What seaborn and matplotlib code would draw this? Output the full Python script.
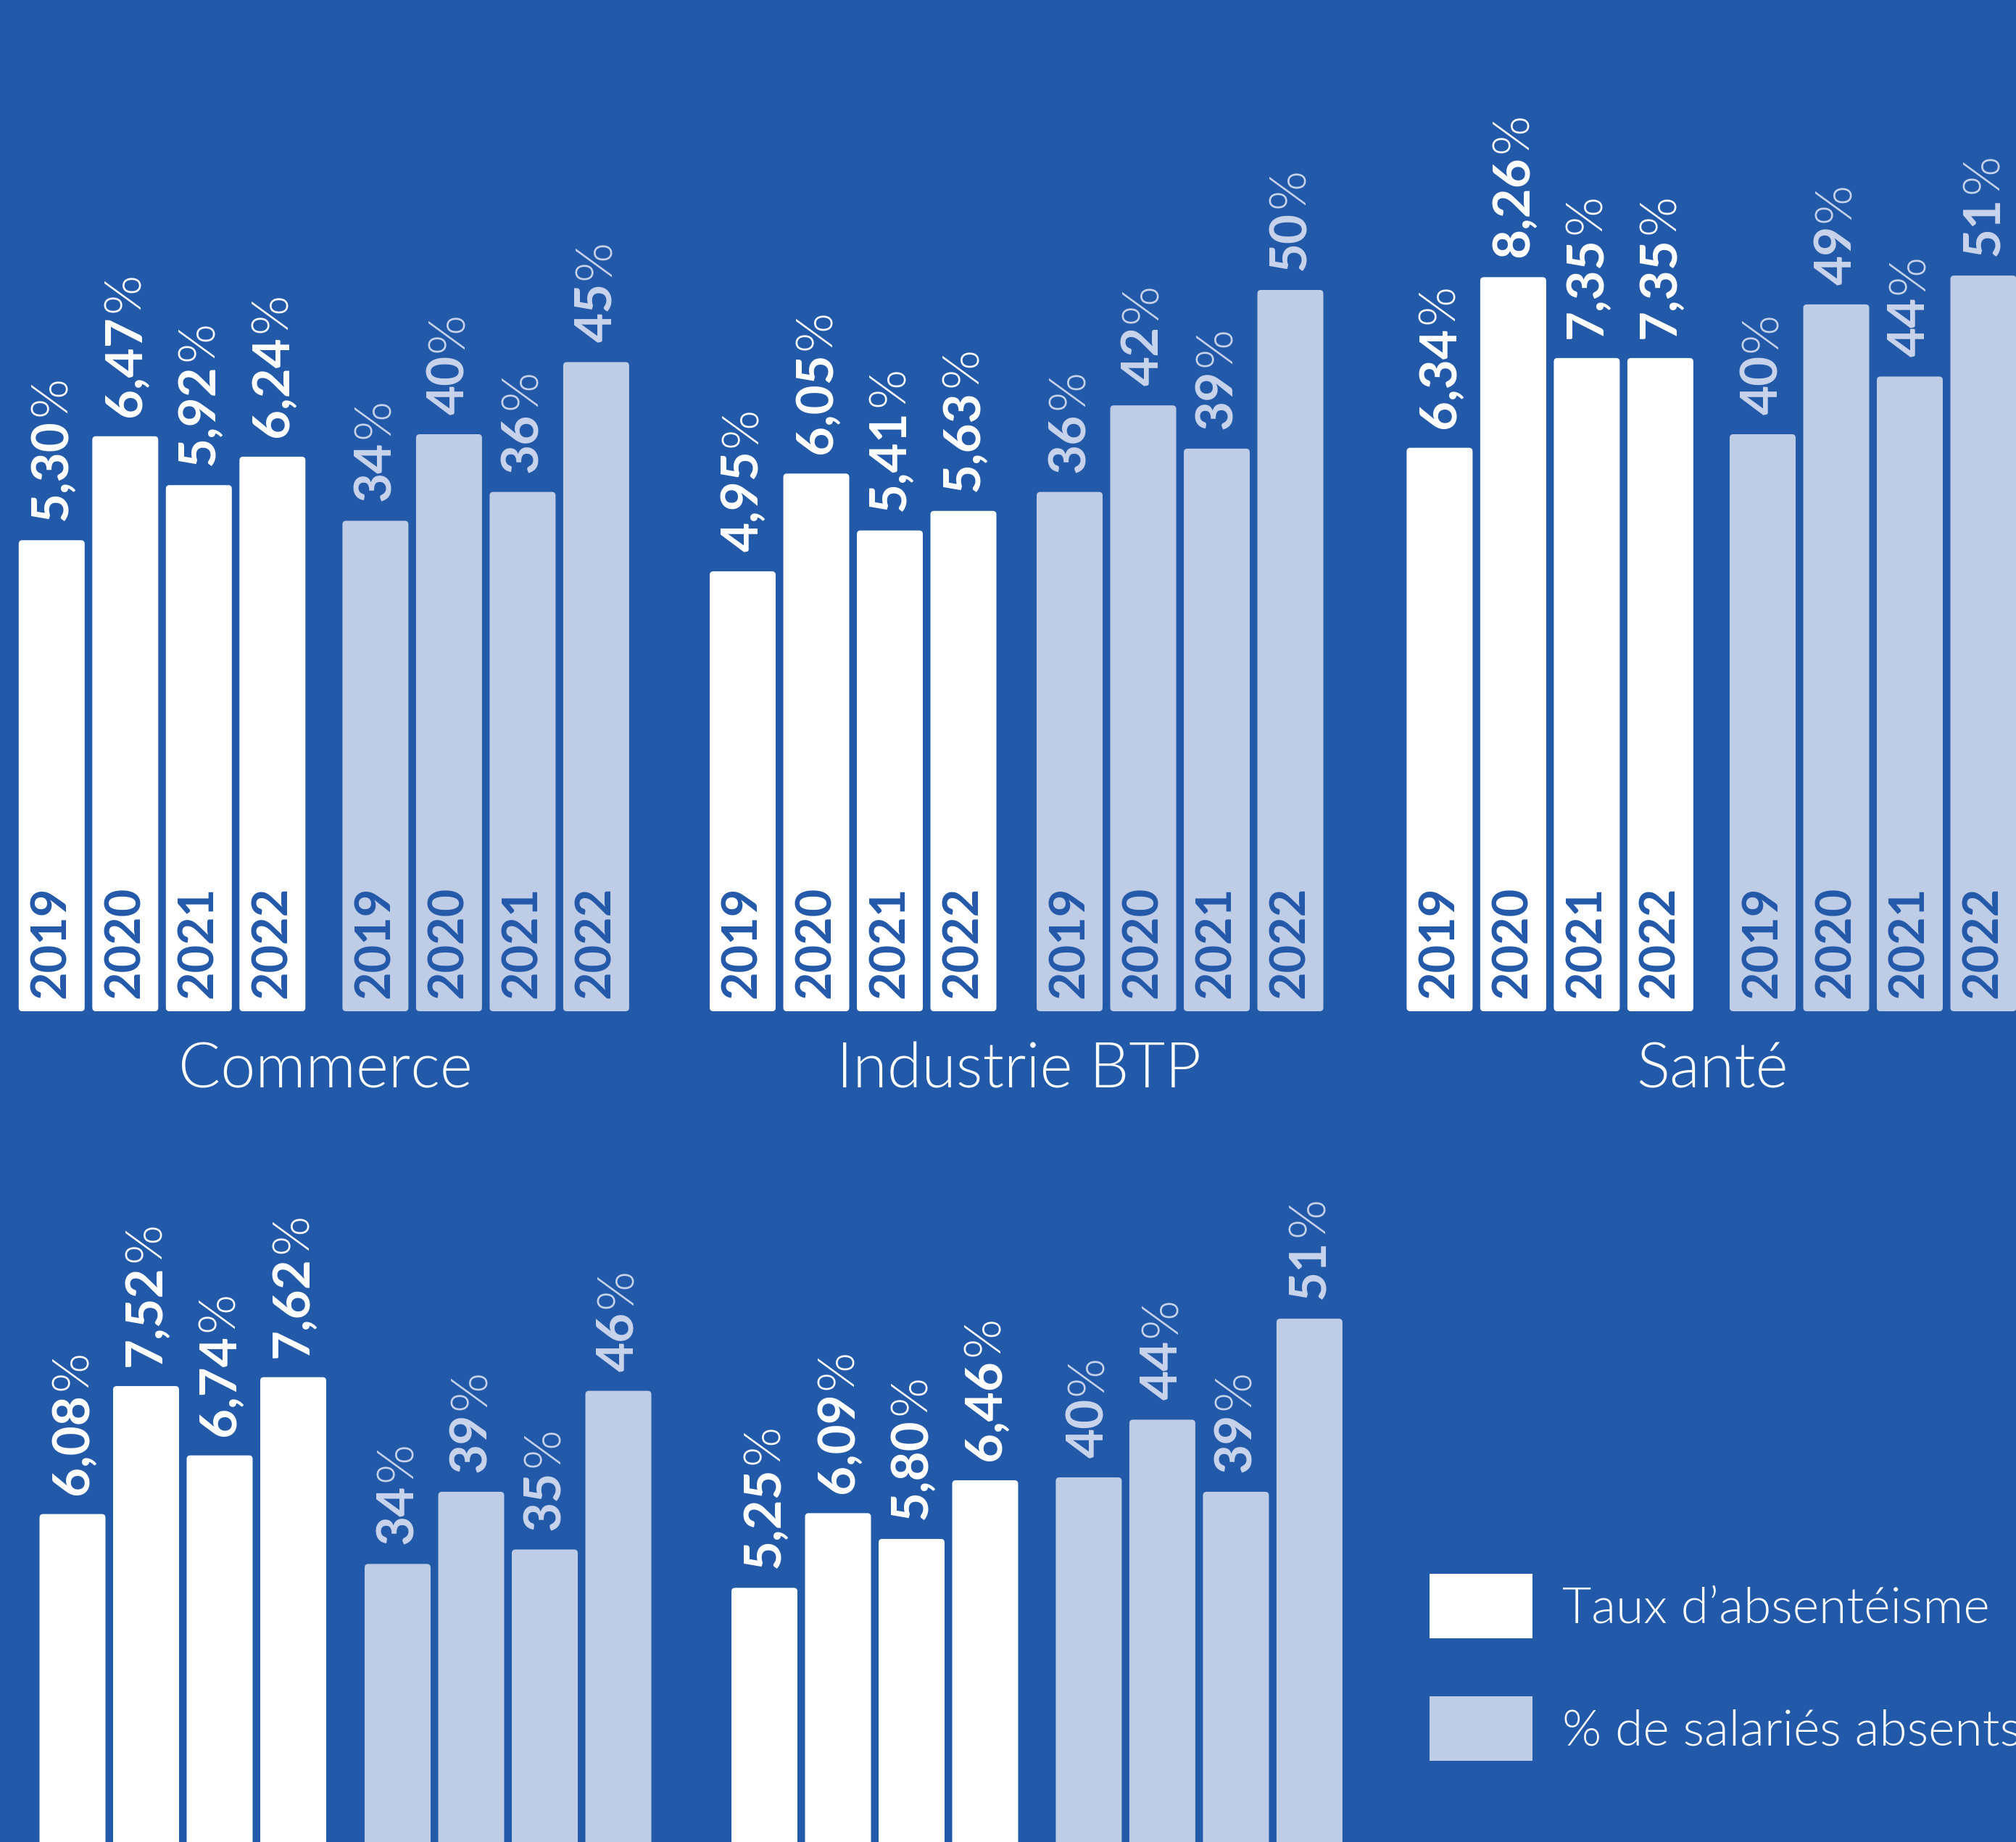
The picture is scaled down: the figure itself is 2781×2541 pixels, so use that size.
"""
Absentéisme par secteur : taux d'absentéisme et % de salariés absents (2019-2022)
"""

import os
import pandas as pd
import matplotlib
matplotlib.use("Agg")
import matplotlib.pyplot as plt
from matplotlib import font_manager as fm
from matplotlib.patches import Patch, FancyBboxPatch
import seaborn as sns

# ---- données ----
annees = ['2019', '2020', '2021', '2022']
secteurs = ['Commerce', 'Industrie BTP', 'Santé']

taux_commerce = [5.30, 6.47, 5.92, 6.24]
absents_commerce = [34, 40, 36, 45]
taux_btp = [4.95, 6.05, 5.41, 5.63]
absents_btp = [36, 42, 39, 50]
taux_sante = [6.34, 8.26, 7.35, 7.35]
absents_sante = [40, 49, 44, 51]
# rangée du bas (noms de secteur hors cadre)
taux_bas_1 = [6.08, 7.52, 6.74, 7.62]
absents_bas_1 = [34, 39, 35, 46]
taux_bas_2 = [5.25, 6.09, 5.80, 6.46]
absents_bas_2 = [40, 44, 39, 51]

legende = ['Taux d’absentéisme', '% de salariés absents']

# ---- mise en page (pixels) ----
W, H, DPI = 2781, 2541, 100
BLEU = '#2359A9'
CLAIR = '#BFCCE6'
TXT_CLAIR = '#C9D4EB'
PX_TAUX = 122.6    # px par point de taux
PX_ABS = 19.9      # px par point de %
PAS = 101.5
LARG = 91
RAYON = 5          # arrondi des barres, px
PT = 72 / DPI      # 1 px en points

FS_VAL = 51
FS_AN = 48
FS_CAT = 62
FS_LEG = 50


def police_lato(mot, defaut_poids):
    """Cherche le fichier Lato d'une graisse donnée (Light...)"""
    for f in fm.fontManager.ttflist:
        base = os.path.basename(f.fname).lower()
        if f.name == 'Lato' and f'lato-{mot}.' in base:
            return fm.FontProperties(fname=f.fname)
    return fm.FontProperties(family=['Lato', 'DejaVu Sans'], weight=defaut_poids)


def arrondir(ax, echelle):
    """Remplace les barres par des rectangles aux coins arrondis"""
    for p in list(ax.patches):
        x, y = p.get_xy()
        w, h = p.get_width(), p.get_height()
        neuf = FancyBboxPatch((x, y), w, h,
                              boxstyle=f"round,pad=0,rounding_size={RAYON / PAS}",
                              mutation_aspect=PAS / echelle,
                              facecolor=p.get_facecolor(), edgecolor='none')
        p.remove()
        ax.add_patch(neuf)


def groupe(fig, gauche, base, haut, valeurs, couleur, couleur_txt, echelle, fmt, avec_annees):
    """Un groupe de 4 barres (une année par barre)"""
    x0 = gauche - (PAS - LARG) / 2
    ax = fig.add_axes([x0 / W, 1 - base / H, 4 * PAS / W, (base - haut) / H])
    df = pd.DataFrame({'annee': annees, 'valeur': valeurs})
    sns.barplot(data=df, x='annee', y='valeur', ax=ax, color=couleur,
                saturation=1, width=LARG / PAS, linewidth=0)
    ax.set_xlim(-0.5, 3.5)
    ax.set_ylim(0, (base - haut) / echelle)
    ax.axis('off')
    arrondir(ax, echelle)

    nombres = []
    for i, (an, v) in enumerate(zip(annees, valeurs)):
        if avec_annees:
            ax.annotate(an, xy=(i, 0), xytext=(0, 18 * PT), textcoords='offset points',
                        rotation=90, ha='center', va='bottom', fontsize=FS_AN,
                        fontweight='bold', color=BLEU)
        t = ax.annotate(fmt(v), xy=(i, v), xytext=(0, 27 * PT), textcoords='offset points',
                        rotation=90, ha='center', va='bottom', fontsize=FS_VAL,
                        fontweight='bold', color=couleur_txt, annotation_clip=False)
        nombres.append((ax, t, i, v))
    return nombres


def main():
    sns.set_theme(style='white')
    plt.rcParams['font.family'] = ['Lato', 'DejaVu Sans']
    maigre = police_lato('light', 'normal')

    fig = plt.figure(figsize=(W / DPI, H / DPI), dpi=DPI, facecolor=BLEU)

    f_taux = lambda v: f"{v:.2f}".replace('.', ',')
    f_abs = lambda v: f"{v:d}"

    # (taux, absents, gauche groupe taux, gauche groupe absents, ligne de base, haut axes, années visibles)
    panneaux = [(taux_commerce, absents_commerce, 25.8, 472.4, 1395, 0, True),
                (taux_btp, absents_btp, 979, 1430, 1395, 0, True),
                (taux_sante, absents_sante, 1940.4, 2386, 1395, 0, True),
                (taux_bas_1, absents_bas_1, 54.5, 503, 2834, 1600, False),
                (taux_bas_2, absents_bas_2, 1009, 1456.4, 2834, 1600, False)]

    nombres = []
    for taux, absents, g1, g2, base, haut, vis in panneaux:
        nombres += groupe(fig, g1, base, haut, taux, 'white', 'white', PX_TAUX, f_taux, vis)
        nombres += groupe(fig, g2, base, haut, absents, CLAIR, TXT_CLAIR, PX_ABS, f_abs, vis)

    # signe % en maigre, au-dessus du nombre
    fig.canvas.draw()
    rend = fig.canvas.get_renderer()
    for ax, t, i, v in nombres:
        h = t.get_window_extent(rend).height
        ax.annotate('%', xy=(i, v), xytext=(0, (27 + h + 4) * PT), textcoords='offset points',
                    rotation=90, ha='center', va='bottom', fontproperties=maigre,
                    fontsize=FS_VAL, color=t.get_color(), annotation_clip=False)

    # noms des secteurs
    centres = [448.7, 1405.6, 2362.4]
    for nom, cx in zip(secteurs, centres):
        fig.text(cx / W, 1 - 1476 / H, nom, ha='center', va='center',
                 fontproperties=maigre, fontsize=FS_CAT, color='white')

    # légende
    fs_px = FS_LEG / PT
    hh = (89 / fs_px - 0.245) / 0.65
    prop = maigre.copy()
    prop.set_size(FS_LEG)
    poignees = [Patch(facecolor='white', edgecolor='none', label=legende[0]),
                Patch(facecolor=CLAIR, edgecolor='none', label=legende[1])]
    fig.legend(handles=poignees, loc='upper left', bbox_to_anchor=(1972 / W, 1 - 2171 / H),
               frameon=False, prop=prop, labelcolor='white',
               handlelength=142 / fs_px, handleheight=hh,
               handletextpad=41 / fs_px, labelspacing=(169 - 89) / fs_px,
               borderpad=0, borderaxespad=0)

    fig.savefig('out.png', dpi=DPI, facecolor=BLEU)


if __name__ == "__main__":
    main()
